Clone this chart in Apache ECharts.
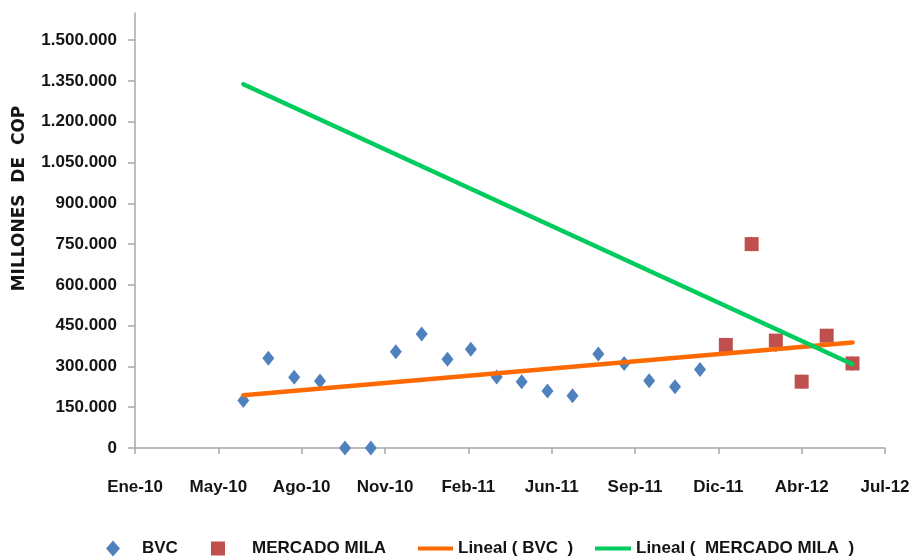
<!DOCTYPE html>
<html>
<head>
<meta charset="utf-8">
<script src="https://cdn.jsdelivr.net/npm/echarts@6/dist/echarts.min.js"></script>
<style>
  html, body { margin: 0; padding: 0; background: #fff; }
  #chart { width: 911px; height: 560px; }
</style>
</head>
<body>
<div id="chart"></div>
<script>
// ---- data ----
const tickLabels = ['Ene-10','May-10','Ago-10','Nov-10','Feb-11','Jun-11','Sep-11','Dic-11','Abr-12','Jul-12'];
const yTicks = [0,150000,300000,450000,600000,750000,900000,1050000,1200000,1350000,1500000];
const bvcMonths = ['2010-06','2010-07','2010-08','2010-09','2010-10','2010-11','2010-12',
  '2011-01','2011-02','2011-03','2011-04','2011-05','2011-06','2011-07','2011-08','2011-09',
  '2011-10','2011-11','2011-12','2012-01','2012-02','2012-03','2012-04','2012-05','2012-06'];
const bvcValues = [175000,330000,260000,246000,0,0,354000,419000,326000,363000,261000,244000,
  210000,192000,346000,311000,247000,225000,289000,379000,750000,380000,244000,413000,311000];
const milaMonths = ['2012-01','2012-02','2012-03','2012-04','2012-05','2012-06'];
const milaValues = [379000,750000,395000,244000,413000,311000];

// ---- helpers ----
const AXIS_START = Date.UTC(2010, 0, 22); // first tick of the date axis
const DAY = 86400000;
function dayOf(m) { const [y, mo] = m.split('-').map(Number); return (Date.UTC(y, mo - 1, 1) - AXIS_START) / DAY; }
function monthIdx(m) { const [y, mo] = m.split('-').map(Number); return y * 12 + mo - 1; }
function fmt(v) { return String(v).replace(/\B(?=(\d{3})+(?!\d))/g, '.'); }
function trend(months, values, fromM, toM) {
  const xs = months.map(monthIdx), n = xs.length;
  const mx = xs.reduce((a, b) => a + b, 0) / n, my = values.reduce((a, b) => a + b, 0) / n;
  let sxy = 0, sxx = 0;
  for (let i = 0; i < n; i++) { sxy += (xs[i] - mx) * (values[i] - my); sxx += (xs[i] - mx) ** 2; }
  const b = sxy / sxx, a = my - b * mx;
  return [fromM, toM].map(m => [dayOf(m), a + b * monthIdx(m)]);
}
const firstM = bvcMonths[0], lastM = bvcMonths[bvcMonths.length - 1];
const bvcTrend = trend(bvcMonths, bvcValues, firstM, lastM);
const milaTrend = trend(milaMonths, milaValues, firstM, lastM);

const FONT = "'Liberation Sans', Arial, sans-serif";
const TXT = '#141414';
const AX = '#A8A8A8';
const legendText = { color: TXT, fontFamily: FONT, fontSize: 17, fontWeight: 'bold' };

const chart = echarts.init(document.getElementById('chart'));
chart.setOption({
  animation: false,
  backgroundColor: '#fff',
  grid: { left: 135, right: 26, top: 13, bottom: 112, containLabel: false, outerBoundsMode: 'none' },
  xAxis: {
    type: 'value', min: 0, max: 900, interval: 100,
    axisLine: { show: true, onZero: false, lineStyle: { color: AX, width: 1.5 } },
    axisTick: { show: true, length: 6, lineStyle: { color: AX, width: 1.5 } },
    splitLine: { show: false },
    axisLabel: {
      margin: 31, color: TXT, fontFamily: FONT, fontSize: 17, fontWeight: 'bold',
      formatter: v => tickLabels[Math.round(v / 100)] || ''
    }
  },
  yAxis: {
    type: 'value', min: 0, max: 1600000, interval: 150000,
    name: 'MILLONES  DE  COP', nameLocation: 'middle', nameRotate: 90, nameGap: 107,
    nameTextStyle: { color: TXT, fontFamily: "'DejaVu Sans', sans-serif", fontWeight: 'bold', fontSize: 17, padding: [0, 0, 0, 64] },
    axisLine: { show: true, lineStyle: { color: AX, width: 1.5 } },
    axisTick: { show: true, length: 7, customValues: yTicks, lineStyle: { color: AX, width: 1.5 } },
    splitLine: { show: false },
    axisLabel: {
      customValues: yTicks, margin: 18, color: TXT, fontFamily: FONT, fontSize: 17, fontWeight: 'bold',
      formatter: v => fmt(v)
    }
  },
  legend: [
    { top: 540, left: 106, padding: 0, itemWidth: 14, itemHeight: 16, textStyle: Object.assign({ padding: [0, 0, 0, 17] }, legendText), data: ['BVC'] },
    { top: 540, left: 211, padding: 0, itemWidth: 14, itemHeight: 14, textStyle: Object.assign({ padding: [0, 0, 0, 22] }, legendText), data: ['MERCADO MILA'] },
    { top: 540, left: 418, padding: 0, icon: 'rect', itemWidth: 35, itemHeight: 4, textStyle: legendText, data: ['Lineal ( BVC  )'] },
    { top: 540, left: 595, padding: 0, icon: 'rect', itemWidth: 36, itemHeight: 4, textStyle: legendText, data: ['Lineal (  MERCADO MILA  )'] }
  ],
  series: [
    {
      name: 'BVC', type: 'scatter', symbol: 'diamond', symbolSize: [12, 15],
      itemStyle: { color: '#4F81BD', opacity: 1 },
      data: bvcMonths.map((m, i) => [dayOf(m), bvcValues[i]])
    },
    {
      name: 'Lineal ( BVC  )', type: 'line', symbol: 'none', silent: true,
      lineStyle: { color: '#FF6A00', width: 4.5, cap: 'round' }, itemStyle: { color: '#FF6A00' },
      data: bvcTrend
    },
    {
      name: 'MERCADO MILA', type: 'scatter', symbol: 'rect', symbolSize: 14,
      itemStyle: { color: '#C0504D', opacity: 1 },
      data: milaMonths.map((m, i) => [dayOf(m), milaValues[i]])
    },
    {
      name: 'Lineal (  MERCADO MILA  )', type: 'line', symbol: 'none', silent: true,
      lineStyle: { color: '#00CC5E', width: 4.5, cap: 'round' }, itemStyle: { color: '#00CC5E' },
      data: milaTrend
    }
  ]
});
</script>
</body>
</html>
